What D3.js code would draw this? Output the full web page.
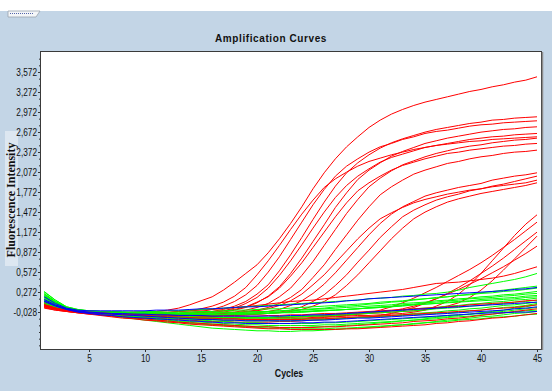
<!DOCTYPE html>
<html>
<head>
<meta charset="utf-8">
<script src="https://cdn.jsdelivr.net/npm/d3@7"></script>
<style>
  html, body { margin: 0; padding: 0; background: #c3d5e6; }
  svg { display: block; }
  .axis text { font-family: "Liberation Sans", Arial, sans-serif; font-size: 11px; fill: #111; }
  .axis path, .axis line { stroke: #333; }
</style>
</head>
<body>
<div id="chart"></div>
<script>
// cycle numbers on x
const cycles = [1,2,3,4,5,6,7,8,9,10,11,12,13,14,15,16,17,18,19,20,21,22,23,24,25,26,27,28,29,30,31,32,33,34,35,36,37,38,39,40,41,42,43,44,45];
const xTickValues = [5,10,15,20,25,30,35,40,45];
const yTickValues = [-0.028,0.272,0.572,0.872,1.172,1.472,1.772,2.072,2.372,2.672,2.972,3.272,3.572];
const yTickLabels = ["-0,028","0,272","0,572","0,872","1,172","1,472","1,772","2,072","2,372","2,672","2,972","3,272","3,572"];

// red wells that amplify
const red01 = [0.08,0.03,0.00,-0.02,-0.03,-0.04,-0.04,-0.04,-0.03,-0.03,-0.02,0.00,0.03,0.08,0.14,0.20,0.30,0.42,0.55,0.68,0.86,1.07,1.30,1.55,1.82,2.06,2.27,2.45,2.60,2.74,2.85,2.94,3.01,3.07,3.12,3.16,3.20,3.24,3.28,3.31,3.35,3.38,3.42,3.45,3.50];
const red02 = [0.10,0.03,0.00,-0.02,-0.03,-0.04,-0.04,-0.05,-0.05,-0.06,-0.06,-0.06,-0.06,-0.05,-0.03,-0.02,0.01,0.06,0.13,0.24,0.38,0.59,0.83,1.09,1.36,1.62,1.86,2.06,2.21,2.33,2.43,2.51,2.57,2.62,2.67,2.71,2.74,2.77,2.80,2.82,2.85,2.86,2.88,2.89,2.90];
const red03 = [0.08,0.02,-0.01,-0.03,-0.04,-0.05,-0.05,-0.06,-0.06,-0.06,-0.06,-0.06,-0.05,-0.03,-0.02,0.01,0.06,0.13,0.23,0.37,0.57,0.80,1.06,1.32,1.58,1.81,2.01,2.16,2.27,2.37,2.45,2.50,2.56,2.60,2.65,2.68,2.70,2.73,2.76,2.78,2.79,2.81,2.82,2.83,2.84];
const red04 = [0.12,0.04,0.00,-0.02,-0.03,-0.04,-0.05,-0.05,-0.06,-0.06,-0.07,-0.07,-0.07,-0.07,-0.06,-0.04,-0.03,0.00,0.04,0.11,0.21,0.35,0.55,0.78,1.03,1.28,1.54,1.76,1.96,2.10,2.21,2.31,2.38,2.44,2.50,2.54,2.58,2.61,2.64,2.67,2.69,2.71,2.72,2.74,2.75];
const red05 = [0.09,0.03,-0.01,-0.03,-0.04,-0.05,-0.05,-0.06,-0.06,-0.07,-0.07,-0.08,-0.08,-0.07,-0.05,-0.04,-0.01,0.03,0.10,0.19,0.33,0.52,0.74,0.98,1.23,1.47,1.69,1.87,2.01,2.12,2.22,2.29,2.34,2.39,2.44,2.47,2.50,2.53,2.56,2.58,2.60,2.61,2.63,2.64,2.65];
const red06 = [0.11,0.04,0.00,-0.02,-0.03,-0.04,-0.04,-0.05,-0.05,-0.06,-0.06,-0.06,-0.07,-0.07,-0.07,-0.06,-0.04,-0.03,0.00,0.04,0.10,0.20,0.33,0.52,0.73,0.97,1.21,1.45,1.66,1.85,1.98,2.09,2.18,2.24,2.30,2.35,2.39,2.43,2.46,2.48,2.51,2.53,2.55,2.56,2.58];
const red07 = [0.07,0.02,-0.01,-0.02,-0.03,-0.04,-0.04,-0.04,-0.05,-0.05,-0.05,-0.04,-0.02,-0.01,0.02,0.06,0.12,0.21,0.34,0.53,0.74,0.97,1.21,1.44,1.65,1.84,1.97,2.07,2.16,2.23,2.28,2.33,2.37,2.41,2.44,2.47,2.49,2.51,2.53,2.54,2.56,2.57,2.58,2.59,2.60];
const red08 = [0.06,0.02,-0.01,-0.02,-0.03,-0.03,-0.04,-0.04,-0.04,-0.05,-0.05,-0.05,-0.05,-0.05,-0.04,-0.02,-0.01,0.01,0.05,0.12,0.20,0.33,0.51,0.71,0.94,1.17,1.40,1.61,1.79,1.91,2.01,2.10,2.17,2.22,2.27,2.31,2.35,2.37,2.40,2.42,2.44,2.46,2.47,2.49,2.50];
const red09 = [0.10,0.03,0.00,-0.02,-0.03,-0.04,-0.04,-0.05,-0.05,-0.05,-0.06,-0.06,-0.06,-0.06,-0.06,-0.06,-0.05,-0.04,-0.02,0.00,0.04,0.10,0.19,0.31,0.49,0.68,0.91,1.13,1.35,1.55,1.73,1.85,1.95,2.04,2.10,2.15,2.20,2.23,2.27,2.30,2.32,2.35,2.37,2.38,2.40];
const red10 = [0.09,0.03,0.00,-0.02,-0.03,-0.04,-0.05,-0.05,-0.06,-0.06,-0.06,-0.07,-0.07,-0.07,-0.07,-0.07,-0.07,-0.06,-0.05,-0.04,-0.02,0.01,0.07,0.14,0.25,0.39,0.56,0.75,0.94,1.13,1.30,1.44,1.55,1.63,1.71,1.76,1.80,1.84,1.87,1.90,1.95,1.98,2.01,2.03,2.06];
const red11 = [0.13,0.05,0.01,-0.02,-0.03,-0.04,-0.05,-0.05,-0.06,-0.06,-0.07,-0.07,-0.07,-0.08,-0.08,-0.08,-0.08,-0.08,-0.07,-0.06,-0.05,-0.03,0.00,0.05,0.13,0.23,0.37,0.53,0.72,0.90,1.09,1.25,1.40,1.50,1.58,1.65,1.70,1.74,1.79,1.82,1.85,1.87,1.89,1.91,1.95];
const red12 = [0.08,0.02,-0.01,-0.03,-0.04,-0.05,-0.05,-0.06,-0.06,-0.06,-0.07,-0.07,-0.07,-0.07,-0.07,-0.07,-0.07,-0.07,-0.07,-0.06,-0.05,-0.04,-0.02,0.01,0.06,0.13,0.23,0.37,0.53,0.71,0.89,1.07,1.23,1.37,1.47,1.55,1.62,1.67,1.71,1.75,1.78,1.81,1.84,1.87,1.91];
const red13 = [0.11,0.04,0.00,-0.02,-0.03,-0.04,-0.04,-0.05,-0.05,-0.05,-0.06,-0.06,-0.06,-0.06,-0.06,-0.06,-0.05,-0.04,-0.03,-0.01,0.02,0.07,0.14,0.24,0.38,0.53,0.71,0.89,1.07,1.23,1.37,1.46,1.54,1.61,1.66,1.70,1.74,1.77,1.80,1.82,1.86,1.89,1.93,1.97,2.01];
const red14 = [0.05,0.01,-0.02,-0.04,-0.05,-0.06,-0.07,-0.08,-0.09,-0.10,-0.11,-0.12,-0.13,-0.13,-0.14,-0.14,-0.15,-0.15,-0.15,-0.15,-0.15,-0.14,-0.14,-0.13,-0.12,-0.11,-0.10,-0.09,-0.08,-0.08,-0.07,-0.06,-0.05,-0.03,0.00,0.06,0.13,0.24,0.38,0.55,0.74,0.93,1.12,1.29,1.43];
const red15 = [0.06,0.02,-0.01,-0.03,-0.04,-0.05,-0.06,-0.07,-0.08,-0.09,-0.10,-0.10,-0.11,-0.12,-0.12,-0.13,-0.13,-0.13,-0.14,-0.14,-0.14,-0.13,-0.13,-0.12,-0.11,-0.10,-0.09,-0.08,-0.06,-0.04,0.00,0.05,0.11,0.18,0.26,0.34,0.43,0.52,0.61,0.71,0.82,0.94,1.06,1.19,1.32];
const red16 = [0.04,0.00,-0.02,-0.04,-0.06,-0.07,-0.08,-0.09,-0.10,-0.11,-0.12,-0.13,-0.14,-0.15,-0.16,-0.17,-0.17,-0.18,-0.18,-0.18,-0.18,-0.17,-0.17,-0.16,-0.15,-0.14,-0.13,-0.12,-0.11,-0.10,-0.08,-0.05,-0.01,0.04,0.10,0.17,0.25,0.34,0.44,0.55,0.66,0.78,0.91,1.04,1.17];
const red17 = [0.09,0.03,0.00,-0.02,-0.03,-0.04,-0.05,-0.06,-0.06,-0.07,-0.08,-0.08,-0.09,-0.09,-0.10,-0.10,-0.11,-0.11,-0.11,-0.11,-0.11,-0.11,-0.10,-0.10,-0.09,-0.09,-0.08,-0.07,-0.06,-0.05,-0.04,-0.03,-0.02,-0.01,0.01,0.03,0.06,0.11,0.19,0.30,0.44,0.60,0.77,0.94,1.11];
const red18 = [0.07,0.02,-0.01,-0.03,-0.04,-0.05,-0.06,-0.07,-0.08,-0.08,-0.09,-0.10,-0.10,-0.11,-0.11,-0.12,-0.12,-0.12,-0.12,-0.12,-0.12,-0.11,-0.11,-0.10,-0.09,-0.08,-0.07,-0.06,-0.05,-0.04,-0.03,-0.01,0.02,0.06,0.11,0.17,0.24,0.31,0.39,0.47,0.56,0.65,0.75,0.85,0.96];
const red19 = [0.07,0.03,0.00,-0.02,-0.03,-0.04,-0.04,-0.04,-0.04,-0.04,-0.03,-0.03,-0.02,-0.01,0.00,0.01,0.02,0.04,0.05,0.07,0.09,0.11,0.13,0.14,0.15,0.17,0.19,0.21,0.23,0.25,0.27,0.29,0.31,0.34,0.37,0.40,0.41,0.42,0.44,0.46,0.48,0.51,0.55,0.60,0.65];
// red wells that stay flat
const redFlat1 = [0.05,0.02,-0.01,-0.03,-0.05,-0.07,-0.09,-0.10,-0.12,-0.13,-0.15,-0.16,-0.18,-0.19,-0.20,-0.21,-0.22,-0.23,-0.24,-0.25,-0.25,-0.26,-0.26,-0.26,-0.26,-0.25,-0.25,-0.24,-0.23,-0.22,-0.21,-0.20,-0.19,-0.17,-0.16,-0.15,-0.13,-0.12,-0.10,-0.08,-0.06,-0.04,-0.02,0.00,0.02];
const redFlat2 = [0.08,0.03,0.00,-0.02,-0.03,-0.04,-0.05,-0.06,-0.06,-0.07,-0.07,-0.08,-0.08,-0.08,-0.09,-0.09,-0.09,-0.09,-0.09,-0.09,-0.08,-0.08,-0.07,-0.07,-0.06,-0.05,-0.05,-0.04,-0.03,-0.02,-0.01,0.00,0.01,0.02,0.03,0.04,0.05,0.06,0.08,0.09,0.10,0.11,0.12,0.14,0.15];
const redFlat3 = [0.03,0.00,-0.02,-0.04,-0.06,-0.08,-0.10,-0.12,-0.13,-0.15,-0.16,-0.18,-0.19,-0.21,-0.22,-0.23,-0.24,-0.25,-0.26,-0.27,-0.28,-0.28,-0.29,-0.29,-0.29,-0.29,-0.29,-0.28,-0.28,-0.27,-0.26,-0.25,-0.24,-0.23,-0.22,-0.20,-0.19,-0.17,-0.16,-0.14,-0.12,-0.11,-0.09,-0.07,-0.05];
const redFlat4 = [0.06,0.02,-0.01,-0.03,-0.04,-0.05,-0.06,-0.07,-0.07,-0.08,-0.09,-0.10,-0.10,-0.11,-0.12,-0.12,-0.13,-0.13,-0.14,-0.14,-0.14,-0.14,-0.14,-0.14,-0.13,-0.13,-0.12,-0.11,-0.10,-0.10,-0.09,-0.08,-0.07,-0.06,-0.05,-0.04,-0.03,-0.02,-0.01,0.00,0.02,0.03,0.04,0.06,0.08];
// green wells
const green01 = [0.24,0.13,0.04,0.00,-0.01,-0.02,-0.02,-0.03,-0.03,-0.02,-0.02,-0.01,-0.01,0.00,0.01,0.02,0.03,0.04,0.05,0.06,0.07,0.08,0.09,0.10,0.11,0.12,0.13,0.14,0.15,0.17,0.18,0.19,0.21,0.22,0.24,0.25,0.27,0.30,0.34,0.37,0.40,0.43,0.46,0.50,0.55];
const green02 = [0.28,0.15,0.05,0.01,-0.01,-0.02,-0.03,-0.03,-0.04,-0.04,-0.04,-0.04,-0.03,-0.03,-0.02,-0.02,-0.01,0.00,0.00,0.01,0.02,0.02,0.03,0.04,0.05,0.06,0.07,0.08,0.09,0.10,0.12,0.13,0.14,0.16,0.17,0.19,0.20,0.22,0.23,0.25,0.26,0.28,0.29,0.31,0.33];
const green03 = [0.20,0.11,0.03,-0.01,-0.03,-0.04,-0.05,-0.06,-0.06,-0.07,-0.07,-0.08,-0.08,-0.08,-0.08,-0.08,-0.07,-0.07,-0.06,-0.06,-0.05,-0.04,-0.04,-0.03,-0.02,-0.01,0.00,0.01,0.02,0.04,0.05,0.06,0.08,0.09,0.11,0.12,0.14,0.15,0.17,0.18,0.19,0.21,0.22,0.24,0.25];
const green04 = [0.16,0.08,0.02,-0.02,-0.04,-0.05,-0.06,-0.07,-0.08,-0.09,-0.10,-0.10,-0.11,-0.11,-0.12,-0.12,-0.12,-0.12,-0.12,-0.11,-0.11,-0.10,-0.10,-0.09,-0.08,-0.07,-0.06,-0.05,-0.04,-0.03,-0.02,-0.01,0.00,0.02,0.03,0.04,0.06,0.07,0.09,0.10,0.12,0.13,0.15,0.16,0.18];
const green05 = [0.22,0.12,0.04,0.00,-0.02,-0.04,-0.05,-0.06,-0.07,-0.08,-0.09,-0.10,-0.11,-0.12,-0.13,-0.14,-0.15,-0.15,-0.16,-0.16,-0.16,-0.16,-0.16,-0.15,-0.15,-0.14,-0.13,-0.12,-0.11,-0.10,-0.09,-0.08,-0.07,-0.05,-0.04,-0.03,-0.01,0.00,0.02,0.03,0.05,0.07,0.08,0.10,0.12];
const green06 = [0.18,0.09,0.02,-0.02,-0.04,-0.06,-0.08,-0.09,-0.11,-0.12,-0.14,-0.15,-0.17,-0.18,-0.20,-0.21,-0.22,-0.23,-0.24,-0.25,-0.25,-0.26,-0.26,-0.26,-0.25,-0.25,-0.24,-0.23,-0.22,-0.21,-0.19,-0.18,-0.16,-0.15,-0.13,-0.11,-0.10,-0.08,-0.06,-0.04,-0.02,0.00,0.03,0.05,0.08];
const green07 = [0.14,0.07,0.01,-0.03,-0.05,-0.07,-0.09,-0.11,-0.13,-0.15,-0.17,-0.19,-0.21,-0.23,-0.25,-0.27,-0.28,-0.29,-0.30,-0.31,-0.31,-0.32,-0.32,-0.31,-0.31,-0.30,-0.29,-0.28,-0.27,-0.26,-0.25,-0.23,-0.22,-0.20,-0.19,-0.17,-0.15,-0.14,-0.12,-0.10,-0.09,-0.07,-0.05,-0.04,-0.02];
const green08 = [0.25,0.13,0.04,0.00,-0.02,-0.03,-0.04,-0.05,-0.05,-0.06,-0.06,-0.07,-0.07,-0.07,-0.07,-0.07,-0.07,-0.06,-0.06,-0.05,-0.05,-0.04,-0.03,-0.03,-0.02,-0.01,0.00,0.01,0.02,0.03,0.04,0.05,0.06,0.08,0.09,0.10,0.12,0.13,0.14,0.16,0.17,0.18,0.19,0.21,0.22];
const green09 = [0.19,0.10,0.03,-0.01,-0.03,-0.05,-0.06,-0.08,-0.09,-0.10,-0.11,-0.12,-0.13,-0.14,-0.15,-0.16,-0.17,-0.18,-0.19,-0.19,-0.20,-0.20,-0.20,-0.20,-0.20,-0.19,-0.19,-0.18,-0.17,-0.16,-0.15,-0.14,-0.13,-0.12,-0.11,-0.10,-0.08,-0.07,-0.06,-0.04,-0.03,-0.02,0.00,0.02,0.04];
const green10 = [0.12,0.06,0.01,-0.02,-0.03,-0.04,-0.05,-0.06,-0.07,-0.07,-0.08,-0.09,-0.09,-0.10,-0.10,-0.11,-0.11,-0.11,-0.11,-0.11,-0.11,-0.10,-0.10,-0.10,-0.09,-0.09,-0.08,-0.07,-0.06,-0.05,-0.04,-0.03,-0.02,-0.01,0.00,0.02,0.03,0.04,0.06,0.07,0.09,0.10,0.12,0.13,0.15];
const green11 = [0.27,0.15,0.05,0.01,-0.01,-0.02,-0.02,-0.03,-0.03,-0.03,-0.04,-0.04,-0.04,-0.04,-0.04,-0.04,-0.03,-0.03,-0.03,-0.02,-0.02,-0.01,-0.01,0.00,0.01,0.02,0.03,0.04,0.05,0.06,0.07,0.08,0.10,0.11,0.12,0.14,0.15,0.17,0.18,0.20,0.21,0.23,0.24,0.26,0.28];
const green12 = [0.15,0.08,0.02,-0.02,-0.04,-0.06,-0.08,-0.10,-0.12,-0.13,-0.15,-0.17,-0.18,-0.20,-0.21,-0.22,-0.23,-0.24,-0.25,-0.26,-0.27,-0.27,-0.28,-0.28,-0.28,-0.28,-0.27,-0.27,-0.26,-0.25,-0.24,-0.23,-0.22,-0.21,-0.19,-0.18,-0.17,-0.15,-0.14,-0.13,-0.11,-0.10,-0.09,-0.07,-0.06];
const green13 = [0.21,0.11,0.03,-0.01,-0.03,-0.04,-0.05,-0.06,-0.06,-0.07,-0.08,-0.08,-0.09,-0.09,-0.10,-0.10,-0.11,-0.11,-0.12,-0.12,-0.13,-0.13,-0.13,-0.13,-0.13,-0.13,-0.12,-0.12,-0.11,-0.11,-0.10,-0.09,-0.08,-0.07,-0.06,-0.05,-0.04,-0.03,-0.01,0.00,0.02,0.04,0.05,0.07,0.10];
const green14 = [0.23,0.12,0.04,0.00,-0.01,-0.02,-0.03,-0.03,-0.04,-0.04,-0.04,-0.05,-0.05,-0.05,-0.05,-0.05,-0.04,-0.04,-0.03,-0.03,-0.02,-0.01,0.00,0.01,0.02,0.03,0.05,0.06,0.07,0.09,0.10,0.12,0.13,0.15,0.17,0.18,0.20,0.22,0.24,0.26,0.28,0.30,0.32,0.34,0.36];
const green15 = [0.17,0.09,0.02,-0.02,-0.04,-0.06,-0.07,-0.09,-0.10,-0.12,-0.13,-0.14,-0.16,-0.17,-0.18,-0.19,-0.20,-0.21,-0.22,-0.22,-0.23,-0.23,-0.23,-0.23,-0.23,-0.22,-0.22,-0.21,-0.20,-0.19,-0.18,-0.17,-0.16,-0.15,-0.14,-0.13,-0.11,-0.10,-0.09,-0.07,-0.06,-0.04,-0.03,-0.01,0.00];
const green16 = [0.10,0.05,0.01,-0.02,-0.03,-0.04,-0.04,-0.05,-0.05,-0.05,-0.06,-0.06,-0.06,-0.06,-0.06,-0.06,-0.06,-0.05,-0.05,-0.04,-0.04,-0.03,-0.03,-0.02,-0.01,0.00,0.00,0.01,0.02,0.03,0.04,0.05,0.07,0.08,0.09,0.10,0.11,0.12,0.13,0.14,0.15,0.16,0.17,0.19,0.20];
// blue wells
const blue01 = [0.20,0.10,0.03,0.00,-0.01,-0.01,-0.01,-0.01,-0.01,-0.01,0.00,0.00,0.00,0.01,0.02,0.02,0.03,0.04,0.05,0.05,0.06,0.07,0.08,0.09,0.10,0.11,0.12,0.14,0.15,0.17,0.18,0.19,0.20,0.21,0.22,0.23,0.24,0.25,0.26,0.27,0.28,0.29,0.31,0.32,0.34];
const blue02 = [0.13,0.06,0.01,-0.03,-0.05,-0.07,-0.08,-0.10,-0.11,-0.12,-0.13,-0.14,-0.15,-0.16,-0.17,-0.18,-0.19,-0.19,-0.20,-0.20,-0.20,-0.20,-0.20,-0.19,-0.19,-0.18,-0.18,-0.17,-0.16,-0.15,-0.14,-0.13,-0.12,-0.11,-0.10,-0.09,-0.08,-0.07,-0.06,-0.05,-0.04,-0.04,-0.03,-0.03,-0.02];
const blue03 = [0.16,0.08,0.02,-0.01,-0.03,-0.04,-0.05,-0.05,-0.06,-0.06,-0.07,-0.07,-0.08,-0.08,-0.08,-0.09,-0.09,-0.09,-0.09,-0.09,-0.09,-0.09,-0.08,-0.08,-0.07,-0.07,-0.06,-0.05,-0.04,-0.03,-0.02,-0.01,0.00,0.01,0.02,0.03,0.04,0.05,0.06,0.07,0.08,0.09,0.10,0.11,0.12];
const blue04 = [0.14,0.07,0.01,-0.02,-0.04,-0.05,-0.06,-0.07,-0.08,-0.09,-0.10,-0.11,-0.12,-0.13,-0.14,-0.14,-0.15,-0.15,-0.16,-0.16,-0.16,-0.16,-0.16,-0.16,-0.15,-0.15,-0.14,-0.13,-0.12,-0.12,-0.11,-0.10,-0.09,-0.08,-0.07,-0.06,-0.05,-0.04,-0.03,-0.02,-0.01,0.00,0.02,0.03,0.05];

const redCurves = [red01,red02,red03,red04,red05,red06,red07,red08,red09,red10,red11,red12,red13,red14,red15,red16,red17,red18,red19];
const redFlatCurves = [redFlat1,redFlat2,redFlat3,redFlat4];
const greenCurves = [green01,green02,green03,green04,green05,green06,green07,green08,green09,green10,green11,green12,green13,green14,green15,green16];
const blueCurves = [blue01,blue02,blue03,blue04];

const svgWidth = 552;
const svgHeight = 391;
const margin = { top: 52, right: 11, bottom: 42, left: 41 };
const width = svgWidth - margin.left - margin.right;
const height = svgHeight - margin.top - margin.bottom;
const narrow = 0.75; // no narrow font installed, squeeze the regular one

const svg = d3.select('#chart').append('svg')
    .attr('width', svgWidth)
    .attr('height', svgHeight);

// white strip and little tab at the very top
svg.append('rect').attr('x', 0).attr('y', 0).attr('width', svgWidth).attr('height', 11).attr('fill', '#fff');
svg.append('path')
    .attr('d', 'M8,11 L40,11 L36,17 L8,17 Z')
    .attr('fill', '#f4f6f8')
    .attr('stroke', '#9aa3ad')
    .attr('stroke-width', 0.8);
svg.append('line')
    .attr('x1', 10).attr('x2', 34).attr('y1', 13.5).attr('y2', 13.5)
    .attr('stroke', '#5566aa').attr('stroke-dasharray', '1,1');

// title
svg.append('text')
    .attr('x', 271).attr('y', 42)
    .attr('text-anchor', 'middle')
    .style('font-family', '"Liberation Sans", Arial, sans-serif')
    .style('font-size', '10px')
    .style('font-weight', 'bold')
    .style('letter-spacing', '0.6px')
    .attr('fill', '#111')
    .text('Amplification Curves');

// y label with its lighter box
svg.append('rect').attr('x', 5).attr('y', 131).attr('width', 13).attr('height', 135).attr('fill', '#dde7f1');
svg.append('text')
    .attr('transform', 'translate(14.5,200) rotate(-90)')
    .attr('text-anchor', 'middle')
    .style('font-family', '"Liberation Serif", "Times New Roman", serif')
    .style('font-size', '12px')
    .style('font-weight', 'bold')
    .attr('fill', '#111')
    .text('Fluorescence Intensity');

const g = svg.append('g')
    .attr('transform', 'translate(' + margin.left + ',' + margin.top + ')');

const xScale = d3.scaleLinear()
    .domain([0.714, 45.357])
    .range([0, width]);
const yScale = d3.scaleLinear()
    .domain([-0.583, 3.872])
    .range([height, 0]);

g.append('rect')
    .attr('width', width).attr('height', height)
    .attr('fill', '#fff');

g.append('clipPath').attr('id', 'plot-clip')
    .append('rect').attr('width', width).attr('height', height);

// minor ticks on y
const minorTicks = d3.range(-0.528, 3.87, 0.1);
g.append('g')
    .attr('class', 'axis')
    .call(d3.axisLeft(yScale).tickValues(minorTicks).tickSize(2).tickFormat(''))
    .call(a => a.select('.domain').remove());

g.append('g')
    .attr('class', 'axis')
    .call(d3.axisLeft(yScale)
        .tickValues(yTickValues)
        .tickSize(3)
        .tickFormat((d, i) => yTickLabels[i]))
    .call(a => a.select('.domain').remove())
    .call(a => a.selectAll('text')
        .attr('x', -4 / narrow)
        .attr('transform', 'scale(' + narrow + ',1)'));

g.append('g')
    .attr('class', 'axis')
    .attr('transform', 'translate(0,' + height + ')')
    .call(d3.axisBottom(xScale)
        .tickValues(xTickValues)
        .tickSize(3)
        .tickPadding(2))
    .call(a => a.select('.domain').remove())
    .call(a => a.selectAll('text').attr('transform', 'scale(' + narrow + ',1)'));

svg.append('text')
    .attr('transform', 'translate(289,377) scale(0.8,1)')
    .attr('text-anchor', 'middle')
    .style('font-family', '"Liberation Sans", Arial, sans-serif')
    .style('font-size', '11px')
    .style('font-weight', 'bold')
    .attr('fill', '#111')
    .text('Cycles');

const line = d3.line()
    .x((d, i) => xScale(cycles[i]))
    .y(d => yScale(d));

const curves = g.append('g').attr('clip-path', 'url(#plot-clip)');

function drawGroup(data, colour) {
    curves.append('g')
        .selectAll('path')
        .data(data)
        .enter()
        .append('path')
        .attr('d', line)
        .attr('fill', 'none')
        .attr('stroke', colour)
        .attr('stroke-width', 1);
}

drawGroup(redCurves, '#ff0000');
drawGroup(greenCurves, '#00ff00');
drawGroup(redFlatCurves, '#ff0000');
drawGroup(blueCurves, '#0000ff');

// frame
g.append('rect')
    .attr('x', -0.5).attr('y', -0.5)
    .attr('width', width + 1).attr('height', height + 1)
    .attr('fill', 'none')
    .attr('stroke', '#3a3a3a');
g.append('line')
    .attr('x1', width + 1.5).attr('x2', width + 1.5)
    .attr('y1', 0).attr('y2', height + 1)
    .attr('stroke', '#8c8c8c').attr('stroke-width', 1.5);
</script>
</body>
</html>
